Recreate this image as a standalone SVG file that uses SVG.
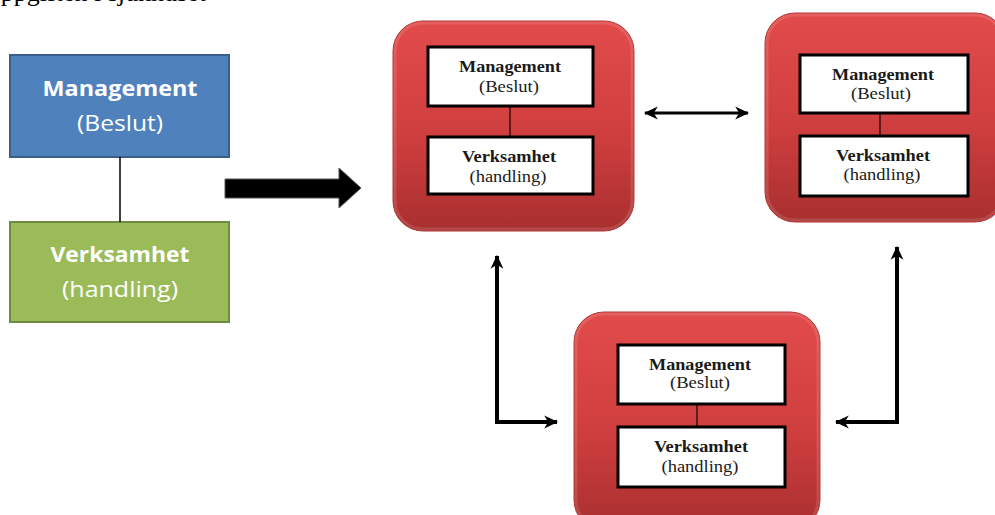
<svg xmlns="http://www.w3.org/2000/svg" width="995" height="515" viewBox="0 0 995 515">
  <style>
    .sans-b { font-family: "Open Sans", "Liberation Sans", sans-serif; font-weight: bold; font-size: 21px; fill: #ffffff; text-anchor: middle; }
    .sans { font-family: "Open Sans", "Liberation Sans", sans-serif; font-size: 21px; fill: #ffffff; text-anchor: middle; }
    .serif-b { font-family: "Liberation Serif", "Times New Roman", serif; font-weight: bold; font-size: 16px; fill: #1a1a1a; text-anchor: middle; }
    .serif { font-family: "Liberation Serif", "Times New Roman", serif; font-size: 16px; fill: #1a1a1a; text-anchor: middle; }
    .inner { fill: #ffffff; stroke: #000000; stroke-width: 3; }
    .tile { fill: url(#redGrad); stroke: #b23636; stroke-width: 1; }
    .rim { fill: none; stroke: #ffffff; stroke-opacity: 0.12; stroke-width: 3; }
    .link { stroke: #3a0f0f; stroke-width: 1.5; }
    .conn { fill: none; stroke: #000000; stroke-linejoin: miter; marker-start: url(#head); marker-end: url(#head); }
  </style>
  <defs>
    <linearGradient id="redGrad" x1="0" y1="0" x2="0" y2="1">
      <stop offset="0" stop-color="#e24b4b"/>
      <stop offset="0.55" stop-color="#cf3e3e"/>
      <stop offset="1" stop-color="#a92f2f"/>
    </linearGradient>
    <marker id="head" viewBox="0 0 12 12" refX="11" refY="6" markerWidth="14" markerHeight="14" markerUnits="userSpaceOnUse" orient="auto-start-reverse">
      <path d="M0,0.5 L12,6 L0,11.5 L3.5,6 Z" fill="#000000"/>
    </marker>
  </defs>

  <!-- running text line, only its descenders fall inside the page -->
  <text x="-18" y="1" font-family="Liberation Serif, serif" font-size="26" fill="#000000">Uppgiften i sjukhuset</text>

  <!-- left: simple two-level model -->
  <g id="mgmt-left">
    <rect x="10" y="55" width="219" height="102" fill="#4f81bd" stroke="#3a5f8b" stroke-width="2"/>
    <text class="sans-b" x="120" y="96" textLength="155" lengthAdjust="spacingAndGlyphs">Management</text>
    <text class="sans" x="120" y="131" textLength="86" lengthAdjust="spacingAndGlyphs">(Beslut)</text>
  </g>
  <g id="ops-left">
    <rect x="10" y="222" width="219" height="100" fill="#9bbb59" stroke="#71893f" stroke-width="2"/>
    <text class="sans-b" x="120" y="262" textLength="139" lengthAdjust="spacingAndGlyphs">Verksamhet</text>
    <text class="sans" x="120" y="297" textLength="116" lengthAdjust="spacingAndGlyphs">(handling)</text>
  </g>

  <!-- red tiles, each with a management and an operations box -->
  <g id="unit-a">
    <rect class="tile" x="393" y="21" width="241" height="210" rx="30"/>
    <rect class="rim" x="395" y="23" width="237" height="206" rx="28"/>
    <line class="link" x1="510" y1="106" x2="510" y2="137"/>
    <rect class="inner" x="428" y="47" width="165" height="59"/>
    <text class="serif-b" x="510" y="72" textLength="102" lengthAdjust="spacingAndGlyphs">Management</text>
    <text class="serif" x="509" y="92" textLength="60" lengthAdjust="spacingAndGlyphs">(Beslut)</text>
    <rect class="inner" x="428" y="137" width="165" height="57"/>
    <text class="serif-b" x="509" y="162" textLength="94" lengthAdjust="spacingAndGlyphs">Verksamhet</text>
    <text class="serif" x="508" y="182" textLength="77" lengthAdjust="spacingAndGlyphs">(handling)</text>
  </g>

  <g id="unit-b">
    <rect class="tile" x="765" y="13" width="240" height="209" rx="30"/>
    <rect class="rim" x="767" y="15" width="236" height="205" rx="28"/>
    <line class="link" x1="880" y1="113" x2="880" y2="136"/>
    <rect class="inner" x="800" y="55" width="168" height="58"/>
    <text class="serif-b" x="883" y="80" textLength="102" lengthAdjust="spacingAndGlyphs">Management</text>
    <text class="serif" x="881" y="99" textLength="60" lengthAdjust="spacingAndGlyphs">(Beslut)</text>
    <rect class="inner" x="800" y="136" width="168" height="60"/>
    <text class="serif-b" x="883" y="161" textLength="94" lengthAdjust="spacingAndGlyphs">Verksamhet</text>
    <text class="serif" x="882" y="180" textLength="77" lengthAdjust="spacingAndGlyphs">(handling)</text>
  </g>

  <g id="unit-c">
    <rect class="tile" x="574" y="312" width="246" height="218" rx="30"/>
    <rect class="rim" x="576" y="314" width="242" height="214" rx="28"/>
    <line class="link" x1="697" y1="404" x2="697" y2="427"/>
    <rect class="inner" x="618" y="345" width="167" height="59"/>
    <text class="serif-b" x="700" y="370" textLength="102" lengthAdjust="spacingAndGlyphs">Management</text>
    <text class="serif" x="700" y="388" textLength="60" lengthAdjust="spacingAndGlyphs">(Beslut)</text>
    <rect class="inner" x="618" y="427" width="167" height="60"/>
    <text class="serif-b" x="701" y="452" textLength="94" lengthAdjust="spacingAndGlyphs">Verksamhet</text>
    <text class="serif" x="700" y="472" textLength="77" lengthAdjust="spacingAndGlyphs">(handling)</text>
  </g>

  <!-- connectors -->
  <g id="connectors">
    <line x1="120" y1="157" x2="120" y2="222" stroke="#000000" stroke-width="1.5"/>
    <polygon points="225,179 339,179 339,168 361,188 339,208 339,198 225,198" fill="#000000" stroke="#555555" stroke-width="1"/>
    <line class="conn" x1="645" y1="113" x2="748" y2="113" stroke-width="3"/>
    <path class="conn" d="M497,256 V422 H557" stroke-width="4"/>
    <path class="conn" d="M897,247 V422 H836" stroke-width="4"/>
  </g>
</svg>
